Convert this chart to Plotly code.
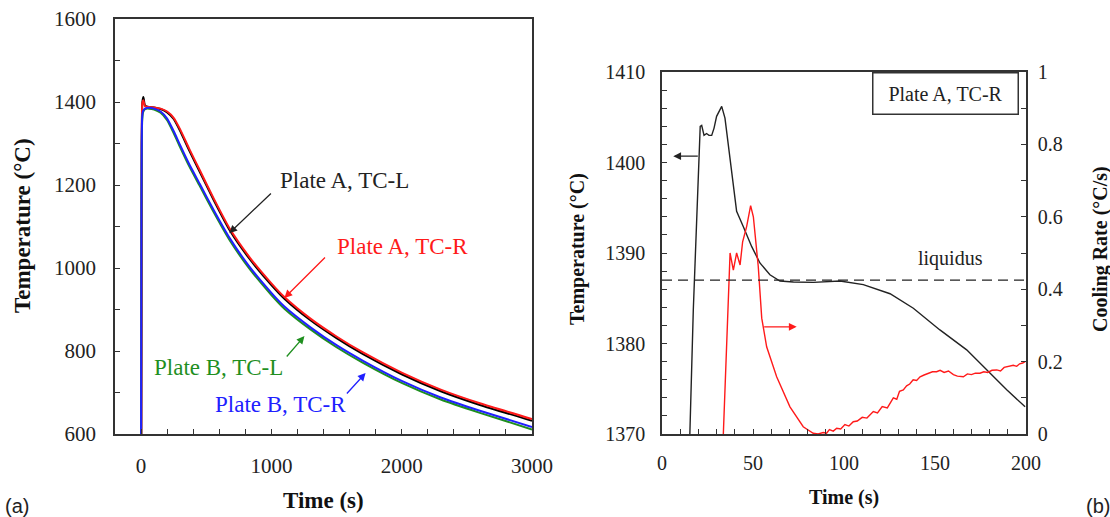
import plotly.graph_objects as go

# ---------- panel (a): cooling curves of plates A and B ----------
time_a = [2, 5, 10, 18, 30, 60, 100, 150, 200, 250, 300, 370, 450, 560, 680, 830, 1000, 1100,
          1300, 1500, 1700, 2000, 2300, 2600, 3000]
plate_a_tcr = [600, 1300, 1398, 1404, 1390, 1388, 1387, 1384, 1377, 1362, 1334, 1287, 1236, 1166,
               1095, 1027, 963, 930, 878, 835, 797, 748, 707, 674, 636]
plate_a_tcl = [600, 1300, 1400, 1412, 1392, 1388, 1387, 1383, 1375, 1359, 1330, 1283, 1232, 1162,
               1091, 1023, 959, 926, 874, 831, 793, 744, 703, 670, 632]

time_b = [0, 3, 8, 15, 30, 60, 100, 150, 200, 250, 300, 370, 450, 560, 680, 830, 1000, 1100,
          1300, 1500, 1700, 2000, 2300, 2600, 3000]
plate_b_tcr = [600, 1150, 1360, 1378, 1384, 1386, 1384, 1377, 1360, 1330, 1296, 1250, 1203, 1138,
               1072, 1004, 940, 907, 857, 814, 777, 728, 688, 656, 617]
plate_b_tcl = [600, 1100, 1350, 1375, 1383, 1384, 1382, 1374, 1356, 1325, 1291, 1245, 1198, 1133,
               1067, 999, 935, 902, 852, 809, 772, 723, 683, 651, 611]

# ---------- panel (b): plate A, TC-R near the liquidus ----------
time_b_temp = [12, 15.3, 17.2, 21.0, 21.8, 23.1, 24.5, 25.8, 27.3, 28.6, 30.0, 32.8, 34.6, 37.4,
               40.1, 41.0, 44.7, 49.3, 53.8, 59.3, 64.8, 72.2, 83.2, 97.8, 110.6, 125.3, 138.1,
               152.7, 167.4, 178.4, 189.4, 199.5]
temp_b = [1360, 1370, 1383.7, 1404.0, 1404.1, 1403.0, 1403.2, 1403.0, 1403.0, 1403.8, 1405.1,
          1406.2, 1404.9, 1400.6, 1396.6, 1394.6, 1392.9, 1390.7, 1388.9, 1387.6, 1386.9, 1386.8,
          1386.75, 1386.9, 1386.5, 1385.5, 1383.9, 1381.5, 1379.3, 1377.1, 1374.9, 1373.0]

time_rate = [33.7, 37.0, 37.4, 39.2, 41.0, 42.9, 44.3, 46.5, 48.7, 50.2, 52.9, 54.8, 57.5, 63.0,
             70.3, 77.6, 80.5, 83.1, 85.8, 88.6, 90.4, 92.0, 94.1, 96.0, 98.2, 100.5, 102.7,
             105.1, 107.3, 110.0, 112.6, 116.1, 118.4, 121.0, 123.8, 127.1, 129.0, 130.5, 132.6,
             134.4, 136.1, 138.0, 139.9, 141.8, 144.0, 146.0, 148.6, 150.9, 152.8, 155.0, 157.4,
             160.1, 162.3, 165.6, 167.8, 170.0, 172.2, 174.7, 176.8, 179.0, 181.3, 183.9, 186.0,
             188.0, 190.4, 193.0, 194.9, 196.5, 198.2, 199.5]
cooling_rate = [0.0, 0.499, 0.50, 0.453, 0.50, 0.467, 0.531, 0.573, 0.631, 0.60, 0.462, 0.320,
                0.241, 0.158, 0.075, 0.020, 0.010, 0.002, 0.000, 0.004, 0.002, 0.012, 0.008,
                0.016, 0.014, 0.026, 0.022, 0.034, 0.036, 0.046, 0.044, 0.062, 0.058, 0.076,
                0.072, 0.100, 0.096, 0.118, 0.122, 0.133, 0.138, 0.150, 0.148, 0.158, 0.163,
                0.166, 0.172, 0.172, 0.176, 0.170, 0.174, 0.164, 0.160, 0.158, 0.166, 0.164,
                0.168, 0.168, 0.172, 0.170, 0.176, 0.177, 0.174, 0.184, 0.186, 0.190, 0.187,
                0.194, 0.196, 0.200]
liquidus = 1387

serif = "Liberation Serif, Times New Roman, serif"
fig = go.Figure()

fig.add_trace(go.Scatter(x=time_a, y=plate_a_tcl, mode="lines",
                         line=dict(color="black", width=2, shape="spline", smoothing=0.5),
                         xaxis="x", yaxis="y"))
fig.add_trace(go.Scatter(x=time_a, y=plate_a_tcr, mode="lines",
                         line=dict(color="#ff1a1a", width=2, shape="spline", smoothing=0.5),
                         xaxis="x", yaxis="y"))
fig.add_trace(go.Scatter(x=time_b, y=plate_b_tcl, mode="lines",
                         line=dict(color="#1f8f1f", width=2, shape="spline", smoothing=0.5),
                         xaxis="x", yaxis="y"))
fig.add_trace(go.Scatter(x=time_b, y=plate_b_tcr, mode="lines",
                         line=dict(color="#2020ff", width=2, shape="spline", smoothing=0.5),
                         xaxis="x", yaxis="y"))

fig.add_trace(go.Scatter(x=time_b_temp, y=temp_b, mode="lines", line=dict(color="#222", width=1.4),
                         xaxis="x2", yaxis="y2"))
fig.add_trace(go.Scatter(x=time_rate, y=cooling_rate, mode="lines", line=dict(color="#ff1a1a", width=1.4),
                         xaxis="x2", yaxis="y3"))

axis_common = dict(showline=True, linecolor="#333", linewidth=1.6, showgrid=False, zeroline=False,
                   automargin=False, ticks="inside", ticklen=5, tickcolor="#333", tickwidth=1.3)
font_a = dict(family=serif, size=21, color="#222")
font_b = dict(family=serif, size=20, color="#222")

W, H = 1110, 517
fig.update_layout(
    width=W, height=H, margin=dict(l=0, r=0, t=0, b=0, autoexpand=False), showlegend=False,
    plot_bgcolor="white", paper_bgcolor="white",
    xaxis=dict(domain=[115 / W, 532 / W], anchor="y", range=[-200, 3000], tick0=0, dtick=1000,
               mirror=True, ticklabelstandoff=12, tickfont=font_a,
               minor=dict(dtick=200, tick0=0, ticks="inside", ticklen=5, tickcolor="#333"),
               **axis_common),
    yaxis=dict(domain=[(H - 434) / H, (H - 19) / H], anchor="x", range=[600, 1600], dtick=200,
               mirror=True, ticklabelstandoff=13, tickfont=font_a,
               minor=dict(dtick=100, ticks="inside", ticklen=5, tickcolor="#333"),
               **axis_common),
    xaxis2=dict(domain=[662 / W, 1026 / W], anchor="y2", range=[0, 200], dtick=50,
                mirror=True, ticklabelstandoff=10, tickfont=font_b,
                minor=dict(dtick=10, ticks="inside", ticklen=5, tickcolor="#333"),
                **axis_common),
    yaxis2=dict(domain=[(H - 434) / H, (H - 72) / H], anchor="x2", range=[1370, 1410], dtick=10,
                ticklabelstandoff=11, tickfont=font_b,
                minor=dict(dtick=2, ticks="inside", ticklen=5, tickcolor="#333"),
                **axis_common),
    yaxis3=dict(anchor="x2", overlaying="y2", side="right", range=[0, 1], dtick=0.2,
                ticklabelstandoff=6, tickfont=font_b,
                minor=dict(dtick=0.1, ticks="inside", ticklen=5, tickcolor="#333"),
                **axis_common),
)

# liquidus reference line
fig.add_shape(type="line", xref="x2", yref="y2", x0=0, x1=200, y0=liquidus, y1=liquidus,
              line=dict(color="#222", width=1.4, dash="10px,6px"))

ann = []


def text(x, y, s, color="#222", size=23, xref="x", yref="y", **kw):
    ann.append(dict(x=x, y=y, xref=xref, yref=yref, text=s, showarrow=False,
                    xanchor="center", yanchor="middle",
                    font=dict(family=serif, size=size, color=color), **kw))


def arrow(x, y, ax, ay, color, xref="x", yref="y"):
    ann.append(dict(x=x, y=y, ax=ax, ay=ay, xref=xref, yref=yref, axref=xref, ayref=yref,
                    text="", showarrow=True, arrowhead=2, arrowsize=1.2, arrowwidth=1.3,
                    arrowcolor=color))


def paper_text(px, py, s, font, **kw):
    ann.append(dict(x=px / W, y=(H - py) / H, xref="paper", yref="paper", text=s,
                    showarrow=False, xanchor="center", yanchor="middle", font=font, **kw))


# panel (a) labels
text(1562, 1212, "Plate A, TC-L")
arrow(677, 1084, 1008, 1183, "#222")
text(2008, 1053, "Plate A, TC-R", color="#ff1a1a")
arrow(1100, 928, 1423, 1029, "#ff1a1a")
text(592, 761, "Plate B, TC-L", color="#1f8f1f")
arrow(1254, 836, 1108, 783, "#1f8f1f")
text(1069, 672, "Plate B, TC-R", color="#2020ff")
arrow(1723, 747, 1569, 694, "#2020ff")

# panel (b) labels
text(158.5, 1389.4, "liquidus", size=20, xref="x2", yref="y2")
arrow(6.2, 1400.7, 20.5, 1400.7, "#222", xref="x2", yref="y2")
arrow(74.0, 0.296, 55.3, 0.296, "#ff1a1a", xref="x2", yref="y3")
paper_text(945.5, 94, "Plate A, TC-R", font_b, bordercolor="#333", borderwidth=1.5,
           borderpad=8, width=128, height=24, bgcolor="white")

# axis titles
bold = dict(family=serif, size=23, color="#111")
paper_text((115 + 532) / 2, 500, "<b>Time (s)</b>", bold)
paper_text(22, 226, "<b>Temperature (°C)</b>", bold, textangle=-90)
bold_b = dict(family=serif, size=20, color="#111")
paper_text((662 + 1026) / 2, 497, "<b>Time (s)</b>", bold_b)
paper_text(577, 249, "<b>Temperature (°C)</b>", bold_b, textangle=-90)
paper_text(1100, 249, "<b>Cooling Rate (°C/s)</b>", bold_b, textangle=-90)

# panel letters
sans = dict(family="Liberation Sans, Arial, sans-serif", size=20, color="#222")
paper_text(17, 506, "(a)", sans)
paper_text(1098, 506, "(b)", sans)

fig.update_layout(annotations=ann)
fig.write_html("out.html")
